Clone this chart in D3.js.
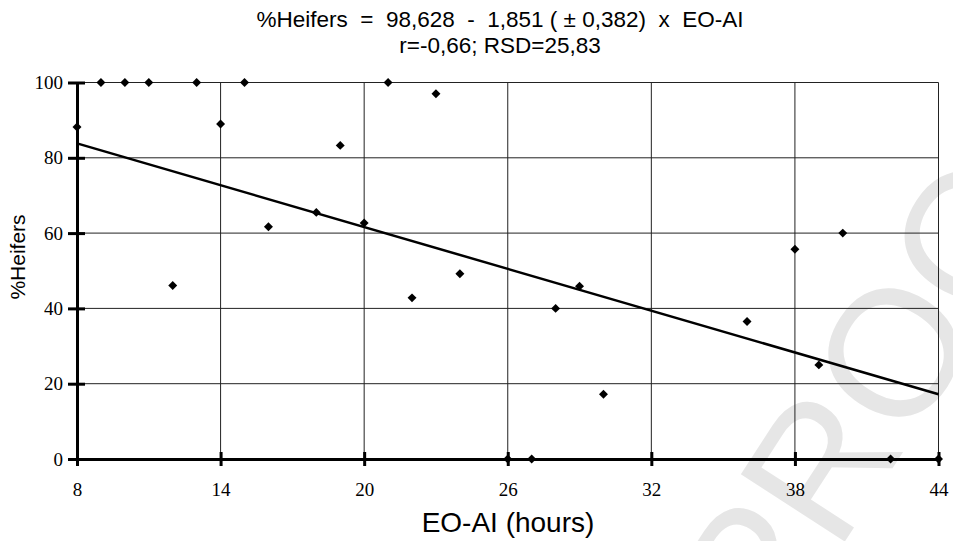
<!DOCTYPE html>
<html>
<head>
<meta charset="utf-8">
<script src="https://cdn.jsdelivr.net/npm/d3@7"></script>
<style>
    body { margin: 0; background: #fff; }
    svg { display: block; }
</style>
</head>
<body>
<script>
// EO-AI interval (hours) and % heifers
var eoAi = [8, 9, 10, 11, 12, 13, 14, 15, 16, 18, 19, 20, 21, 22, 23, 24, 26, 27, 28, 29, 30, 36, 38, 39, 40, 42, 44];
var heifers = [88.2, 100, 100, 100, 46.1, 100, 89, 100, 61.7, 65.5, 83.3, 62.7, 100, 42.8, 97, 49.2, 0, 0, 40, 45.9, 17.2, 36.5, 55.7, 25, 60, 0, 0];

var xTicks = [8, 14, 20, 26, 32, 38, 44];
var yTicks = [0, 20, 40, 60, 80, 100];

// regression from the title
var intercept = 98.628;
var slope = -1.851;

var titleLines = ["%Heifers  =  98,628  -  1,851 ( \u00b1 0,382)  x  EO-AI", "r=-0,66; RSD=25,83"];

function init() {
    var w = 953;
    var h = 541;

    var left = 77, right = 938.5, top = 82.5, bottom = 459;

    var svg = d3.select("body").append("svg").attr("width", w).attr("height", h);

    // watermark
    svg.append("text")
        .attr("transform", "translate(1120,118) rotate(-57)")
        .attr("text-anchor", "end")
        .style("font-family", "'Liberation Sans', Arial, sans-serif")
        .style("font-size", "180px")
        .attr("fill", "#e6e6e6")
        .text("UNCORRECTED PROOF");

    var xScale = d3.scaleLinear().domain([8, 44]).range([left, right]);
    var yScale = d3.scaleLinear().domain([0, 100]).range([bottom, top]);

    // grid
    svg.append("g").selectAll("line")
        .data(xTicks.slice(1))
        .enter().append("line")
        .attr("x1", function (d) { return xScale(d); })
        .attr("x2", function (d) { return xScale(d); })
        .attr("y1", yScale(100))
        .attr("y2", yScale(0))
        .attr("stroke", "#222")
        .attr("stroke-width", 1);

    svg.append("g").selectAll("line")
        .data(yTicks.slice(1))
        .enter().append("line")
        .attr("x1", xScale(8))
        .attr("x2", xScale(44))
        .attr("y1", function (d) { return yScale(d); })
        .attr("y2", function (d) { return yScale(d); })
        .attr("stroke", "#222")
        .attr("stroke-width", 1);

    // axes
    var xAxis = d3.axisBottom(xScale).tickValues(xTicks).tickSizeInner(7).tickSizeOuter(0).tickPadding(17);
    var yAxis = d3.axisLeft(yScale).tickValues(yTicks).tickSizeInner(8).tickSizeOuter(0).tickPadding(6);

    var gx = svg.append("g")
        .attr("transform", "translate(0," + bottom + ")")
        .call(xAxis);
    var gy = svg.append("g")
        .attr("transform", "translate(" + left + ",0)")
        .call(yAxis);

    [gx, gy].forEach(function (g) {
        g.select(".domain").attr("stroke", "#000").attr("stroke-width", 3);
        g.selectAll(".tick line").attr("stroke", "#000").attr("stroke-width", 3);
        g.selectAll(".tick text")
            .attr("fill", "#000")
            .style("font-family", "'Liberation Serif', 'Times New Roman', serif")
            .style("font-size", "19px");
    });
    // ticks cross the axis
    gx.selectAll(".tick line").attr("y1", -7);
    gy.selectAll(".tick line").attr("x1", 8).attr("x2", -9);
    gy.selectAll(".tick text").attr("x", -14);

    // regression line
    var fit = [8, 44].map(function (x) { return [x, intercept + slope * x]; });
    svg.append("path")
        .datum(fit)
        .attr("fill", "none")
        .attr("stroke", "#000")
        .attr("stroke-width", 2.5)
        .attr("d", d3.line()
            .x(function (d) { return xScale(d[0]); })
            .y(function (d) { return yScale(d[1]); }));

    // points
    svg.append("g").selectAll("path")
        .data(eoAi)
        .enter().append("path")
        .attr("d", d3.symbol().type(d3.symbolSquare).size(40))
        .attr("transform", function (d, i) {
            return "translate(" + xScale(d) + "," + yScale(heifers[i]) + ") rotate(45)";
        })
        .attr("fill", "#000");

    // title
    svg.append("g").selectAll("text")
        .data(titleLines)
        .enter().append("text")
        .attr("x", 500)
        .attr("y", function (d, i) { return 26.5 + i * 26; })
        .attr("text-anchor", "middle")
        .attr("xml:space", "preserve")
        .style("white-space", "pre")
        .style("font-family", "'Liberation Sans', Arial, sans-serif")
        .style("font-size", "22.5px")
        .text(function (d) { return d; });

    svg.append("text")
        .attr("transform", "translate(25,257) rotate(-90)")
        .attr("text-anchor", "middle")
        .style("font-family", "'Liberation Sans', Arial, sans-serif")
        .style("font-size", "21px")
        .text("%Heifers");

    svg.append("text")
        .attr("x", 508)
        .attr("y", 532)
        .attr("text-anchor", "middle")
        .style("font-family", "'Liberation Sans', Arial, sans-serif")
        .style("font-size", "28px")
        .text("EO-AI (hours)");
}

window.onload = init;
</script>
</body>
</html>
